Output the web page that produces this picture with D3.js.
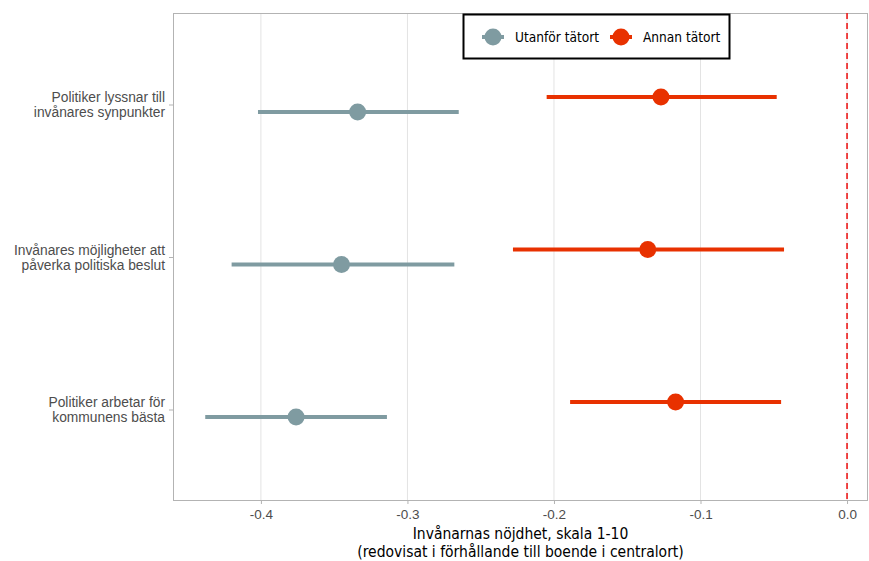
<!DOCTYPE html>
<html>
<head>
<meta charset="utf-8">
<script src="https://cdn.jsdelivr.net/npm/d3@7"></script>
<style>
  body { margin: 0; background: #fff; }
  svg { display: block; font-family: "DejaVu Sans Condensed", "DejaVu Sans", sans-serif; }
</style>
</head>
<body>
<svg id="chart" width="869" height="561"></svg>
<script>
// Items, top to bottom (label lines)
const items = [
  ["Politiker lyssnar till", "invånares synpunkter"],
  ["Invånares möjligheter att", "påverka politiska beslut"],
  ["Politiker arbetar för", "kommunens bästa"]
];
const groups = ["Utanför tätort", "Annan tätort"];
const groupColors = ["#7f9ba1", "#e83100"];

// Estimates and confidence limits per group, same order as items
const utanforEst = [-0.334, -0.345, -0.376];
const utanforLow = [-0.402, -0.420, -0.438];
const utanforHigh = [-0.265, -0.268, -0.314];
const annanEst = [-0.127, -0.136, -0.117];
const annanLow = [-0.205, -0.228, -0.189];
const annanHigh = [-0.048, -0.043, -0.045];

const xTicks = [-0.4, -0.3, -0.2, -0.1, 0.0];
const xTitle = ["Invånarnas nöjdhet, skala 1-10", "(redovisat i förhållande till boende i centralort)"];

const rows = [];
items.forEach((lab, i) => {
  rows.push({ item: i, group: 0, est: utanforEst[i], lo: utanforLow[i], hi: utanforHigh[i] });
  rows.push({ item: i, group: 1, est: annanEst[i], lo: annanLow[i], hi: annanHigh[i] });
});

const svg = d3.select("#chart");
const panel = { left: 173, right: 868, top: 13, bottom: 501 };

const x = d3.scaleLinear().domain([-0.46, 0.0143]).range([panel.left, panel.right]);
const y = d3.scalePoint().domain(d3.range(items.length)).range([panel.top, panel.bottom]).padding(0.6);
const dodge = 7.5;
const yPos = d => y(d.item) + (d.group === 0 ? dodge : -dodge);

// grid
svg.append("g").selectAll("line").data(xTicks).join("line")
  .attr("x1", d => x(d)).attr("x2", d => x(d))
  .attr("y1", panel.top).attr("y2", panel.bottom)
  .attr("stroke", "#e3e3e3").attr("stroke-width", 1);

// panel border
svg.append("rect")
  .attr("x", panel.left + 0.5).attr("y", panel.top + 0.5)
  .attr("width", panel.right - panel.left - 1).attr("height", panel.bottom - panel.top - 1)
  .attr("fill", "none").attr("stroke", "#b3b3b3").attr("stroke-width", 1);

// reference line at zero
svg.append("line")
  .attr("x1", x(0)).attr("x2", x(0))
  .attr("y1", panel.top).attr("y2", panel.bottom)
  .attr("stroke", "#ee1c1c").attr("stroke-width", 1.6)
  .attr("stroke-dasharray", "6,4");

// x axis
const xAxis = svg.append("g")
  .attr("transform", `translate(0,${panel.bottom})`)
  .call(d3.axisBottom(x).tickValues(xTicks).tickFormat(d3.format(".1f")).tickSize(3).tickPadding(5));
xAxis.select(".domain").remove();
xAxis.selectAll(".tick line").attr("stroke", "#b3b3b3");
xAxis.selectAll(".tick text").attr("fill", "#4d4d4d").attr("font-size", 13.5)
  .text(d => d === 0 ? "0.0" : d3.format(".1f")(d).replace("−", "-"));

// y axis
const yAxis = svg.append("g")
  .attr("transform", `translate(${panel.left},0)`)
  .call(d3.axisLeft(y).tickSize(4).tickFormat(""));
yAxis.select(".domain").remove();
yAxis.selectAll(".tick line").attr("stroke", "#b3b3b3");
yAxis.selectAll(".tick").each(function(d) {
  const t = d3.select(this).append("text")
    .attr("x", -8).attr("text-anchor", "end")
    .attr("fill", "#4d4d4d").attr("font-size", 13.8);
  items[d].forEach((line, k) => {
    t.append("tspan").attr("x", -8).attr("y", k === 0 ? -3 : 12).text(line);
  });
});

// intervals
svg.append("g").selectAll("line").data(rows).join("line")
  .attr("x1", d => x(d.lo)).attr("x2", d => x(d.hi))
  .attr("y1", yPos).attr("y2", yPos)
  .attr("stroke", d => groupColors[d.group]).attr("stroke-width", 4);

// estimates
svg.append("g").selectAll("circle").data(rows).join("circle")
  .attr("cx", d => x(d.est)).attr("cy", yPos).attr("r", 8.5)
  .attr("fill", d => groupColors[d.group]);

// legend
const lg = svg.append("g");
lg.append("rect").attr("x", 463.5).attr("y", 14.5).attr("width", 266).attr("height", 44)
  .attr("fill", "#fff").attr("stroke", "#000").attr("stroke-width", 2);
const keyX = [493, 621];
groups.forEach((g, i) => {
  lg.append("line").attr("x1", keyX[i] - 11).attr("x2", keyX[i] + 11)
    .attr("y1", 37).attr("y2", 37).attr("stroke", groupColors[i]).attr("stroke-width", 4);
  lg.append("circle").attr("cx", keyX[i]).attr("cy", 37).attr("r", 8.5).attr("fill", groupColors[i]);
  lg.append("text").attr("x", keyX[i] + 22).attr("y", 42).attr("font-size", 13.6)
    .attr("fill", "#000").text(g);
});

// x title, two lines
xTitle.forEach((line, k) => {
  svg.append("text").attr("text-anchor", "middle").attr("font-size", 15.5).attr("fill", "#000")
    .attr("x", (panel.left + panel.right) / 2).attr("y", 538.5 + k * 18.3).text(line);
});
</script>
</body>
</html>
